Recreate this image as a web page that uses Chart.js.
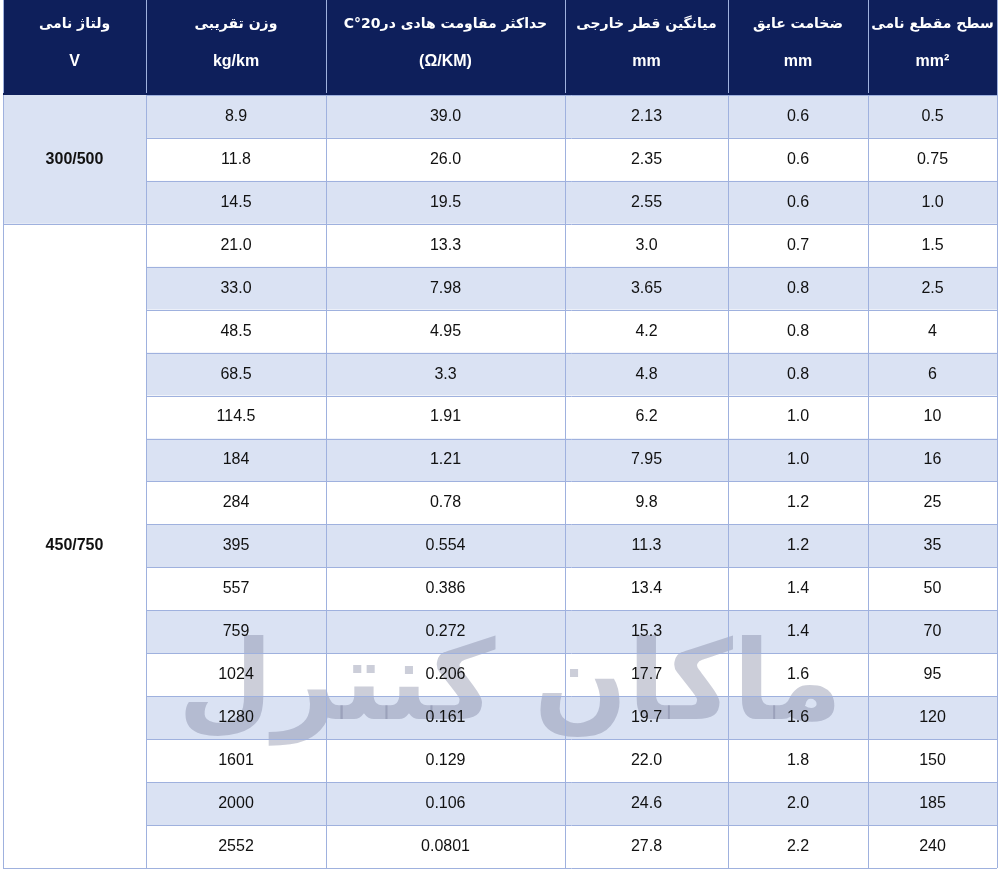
<!DOCTYPE html>
<html>
<head>
<meta charset="utf-8">
<script src="https://cdn.jsdelivr.net/npm/chart.js@4"></script>
<style>
  body { margin: 0; background: #fff; }
  #wrap { width: 1000px; height: 880px; }
</style>
</head>
<body>
<div id="wrap"><canvas id="table"></canvas></div>
<script>
// column order is right to left, like the picture
const headerTop = ['سطح مقطع نامی', 'ضخامت عایق', 'میانگین قطر خارجی', 'حداکثر مقاومت هادی در20°C', 'وزن تقریبی', 'ولتاژ نامی'];
const headerUnits = ['mm²', 'mm', 'mm', '(Ω/KM)', 'kg/km', 'V'];
const sizes = ['0.5', '0.75', '1.0', '1.5', '2.5', '4', '6', '10', '16', '25', '35', '50', '70', '95', '120', '150', '185', '240'];
const thickness = ['0.6', '0.6', '0.6', '0.7', '0.8', '0.8', '0.8', '1.0', '1.0', '1.2', '1.2', '1.4', '1.4', '1.6', '1.6', '1.8', '2.0', '2.2'];
const diameter = ['2.13', '2.35', '2.55', '3.0', '3.65', '4.2', '4.8', '6.2', '7.95', '9.8', '11.3', '13.4', '15.3', '17.7', '19.7', '22.0', '24.6', '27.8'];
const resistance = ['39.0', '26.0', '19.5', '13.3', '7.98', '4.95', '3.3', '1.91', '1.21', '0.78', '0.554', '0.386', '0.272', '0.206', '0.161', '0.129', '0.106', '0.0801'];
const weight = ['8.9', '11.8', '14.5', '21.0', '33.0', '48.5', '68.5', '114.5', '184', '284', '395', '557', '759', '1024', '1280', '1601', '2000', '2552'];
const voltages = ['300/500', '450/750'];
const voltageRows = [[0, 3], [3, 18]];

// layout (canvas units)
const colEdges = [997, 868, 728, 565, 326, 146, 3];
const headerBottom = 93;
const bodyTop = 95;
const rowH = (868 - bodyTop) / 18;

const columns = [sizes, thickness, diameter, resistance, weight];

const tablePlugin = {
  id: 'tablePlugin',
  beforeDraw(chart) {
    const ctx = chart.ctx;
    const x = chart.scales.x, y = chart.scales.y;
    const px = v => x.getPixelForValue(v);
    const py = v => y.getPixelForValue(v);
    const rowTop = i => bodyTop + i * rowH;
    ctx.save();

    // header
    ctx.fillStyle = '#0e1f5b';
    ctx.fillRect(px(3), py(0), px(997) - px(3), py(headerBottom) - py(0));

    // body stripes
    for (let r = 0; r < 18; r++) {
      ctx.fillStyle = r % 2 === 0 ? '#dae2f3' : '#ffffff';
      ctx.fillRect(px(146), py(rowTop(r)), px(997) - px(146), py(rowTop(r + 1)) - py(rowTop(r)));
    }
    // voltage cells
    voltageRows.forEach((rg, i) => {
      ctx.fillStyle = i === 0 ? '#dae2f3' : '#ffffff';
      ctx.fillRect(px(3), py(rowTop(rg[0])), px(146) - px(3), py(rowTop(rg[1])) - py(rowTop(rg[0])));
    });

    // watermark
    ctx.globalAlpha = 0.35;
    ctx.fillStyle = '#6d7391';
    ctx.font = 'bold 110px "DejaVu Sans"';
    ctx.textAlign = 'center';
    ctx.textBaseline = 'middle';
    ctx.direction = 'rtl';
    ctx.fillText('ماکان کنترل', px(510), py(690));
    ctx.globalAlpha = 1;

    // grid lines
    ctx.strokeStyle = '#9fb1de';
    ctx.lineWidth = 1;
    ctx.beginPath();
    for (let r = 0; r <= 18; r++) {
      const yy = Math.round(py(rowTop(r))) + 0.5;
      ctx.moveTo(px(146), yy);
      ctx.lineTo(px(997), yy);
    }
    voltageRows.forEach(rg => {
      const yy = Math.round(py(rowTop(rg[1]))) + 0.5;
      ctx.moveTo(px(3), yy);
      ctx.lineTo(px(146), yy);
    });
    colEdges.forEach(e => {
      const xx = Math.round(px(e)) + 0.5;
      ctx.moveTo(xx, py(0));
      ctx.lineTo(xx, py(rowTop(18)));
    });
    ctx.stroke();
    ctx.strokeStyle = '#0e1f5b';
    ctx.lineWidth = 2;
    ctx.beginPath();
    ctx.moveTo(px(3), py(94));
    ctx.lineTo(px(997), py(94));
    ctx.stroke();

    // header text
    ctx.fillStyle = '#ffffff';
    for (let c = 0; c < 6; c++) {
      const cx = (px(colEdges[c]) + px(colEdges[c + 1])) / 2;
      ctx.direction = 'rtl';
      ctx.font = 'bold 14px "DejaVu Sans"';
      ctx.fillText(headerTop[c], cx, py(24));
      ctx.direction = 'ltr';
      ctx.font = 'bold 16px "Liberation Sans"';
      ctx.fillText(headerUnits[c], cx, py(62));
    }

    // body text
    ctx.fillStyle = '#111111';
    ctx.font = '16px "Liberation Sans"';
    columns.forEach((col, c) => {
      const cx = (px(colEdges[c]) + px(colEdges[c + 1])) / 2;
      col.forEach((v, r) => ctx.fillText(v, cx, py(rowTop(r) + rowH / 2)));
    });
    ctx.font = 'bold 16px "Liberation Sans"';
    voltageRows.forEach((rg, i) => {
      const cx = (px(146) + px(3)) / 2;
      ctx.fillText(voltages[i], cx, py((rowTop(rg[0]) + rowTop(rg[1])) / 2));
    });
    ctx.restore();
  }
};

new Chart(document.getElementById('table'), {
  type: 'scatter',
  data: { datasets: [{ data: [] }] },
  options: {
    responsive: true,
    maintainAspectRatio: false,
    animation: false,
    layout: { padding: 0 },
    plugins: { legend: { display: false }, tooltip: { enabled: false } },
    scales: {
      x: { type: 'linear', min: 0, max: 1000, display: false },
      y: { type: 'linear', min: 0, max: 880, reverse: true, display: false }
    }
  },
  plugins: [tablePlugin]
});
</script>
</body>
</html>
